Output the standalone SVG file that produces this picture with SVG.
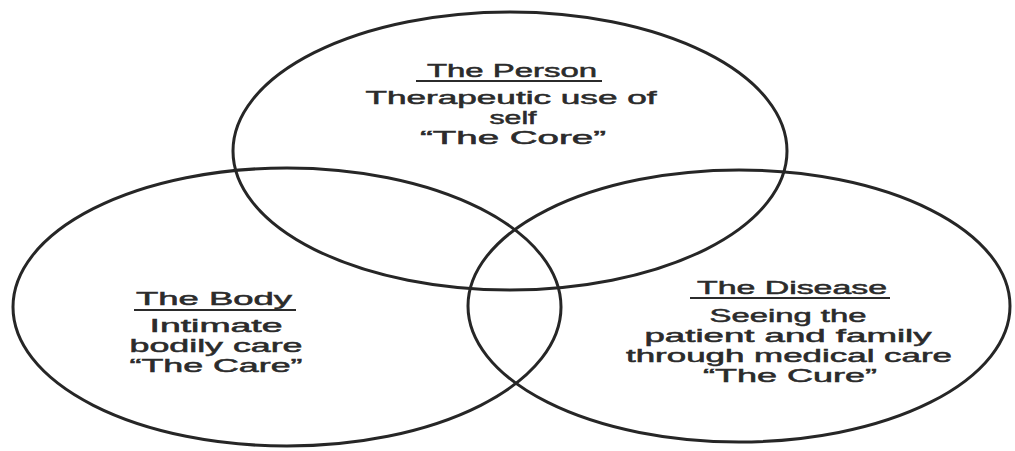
<svg xmlns="http://www.w3.org/2000/svg" width="1015" height="451" viewBox="0 0 1015 451">
  <style>
    .ring { fill: none; stroke: #262626; stroke-width: 3; }
    .t { font-family: "Liberation Sans", Arial, sans-serif; font-size: 18px; fill: #2b2b2b; stroke: #2b2b2b; stroke-width: 0.5; text-anchor: middle; }
    .ul { stroke: #2b2b2b; stroke-width: 2; }
  </style>
  <rect width="1015" height="451" fill="#ffffff"/>
  <g id="person">
    <ellipse class="ring" cx="510" cy="151" rx="277" ry="139"/>
    <text class="t" x="512" y="77" textLength="170" lengthAdjust="spacingAndGlyphs">The Person</text>
    <line class="ul" x1="416" y1="81" x2="602" y2="81"/>
    <text class="t" x="511" y="104" textLength="291" lengthAdjust="spacingAndGlyphs">Therapeutic use of</text>
    <text class="t" x="513" y="124" textLength="47" lengthAdjust="spacingAndGlyphs">self</text>
    <text class="t" x="513" y="144" textLength="186" lengthAdjust="spacingAndGlyphs">“The Core”</text>
  </g>
  <g id="body">
    <ellipse class="ring" cx="287" cy="307" rx="274" ry="139"/>
    <text class="t" x="214" y="305" textLength="156" lengthAdjust="spacingAndGlyphs">The Body</text>
    <line class="ul" x1="134" y1="310" x2="296" y2="310"/>
    <text class="t" x="216" y="332" textLength="133" lengthAdjust="spacingAndGlyphs">Intimate</text>
    <text class="t" x="216" y="352" textLength="173" lengthAdjust="spacingAndGlyphs">bodily care</text>
    <text class="t" x="216" y="372" textLength="173" lengthAdjust="spacingAndGlyphs">“The Care”</text>
  </g>
  <g id="disease">
    <ellipse class="ring" cx="739" cy="306" rx="271" ry="136"/>
    <text class="t" x="792" y="294" textLength="190" lengthAdjust="spacingAndGlyphs">The Disease</text>
    <line class="ul" x1="690" y1="298" x2="890" y2="298"/>
    <text class="t" x="788" y="322" textLength="157" lengthAdjust="spacingAndGlyphs">Seeing the</text>
    <text class="t" x="788" y="342" textLength="287" lengthAdjust="spacingAndGlyphs">patient and family</text>
    <text class="t" x="789" y="362" textLength="326" lengthAdjust="spacingAndGlyphs">through medical care</text>
    <text class="t" x="790" y="382" textLength="174" lengthAdjust="spacingAndGlyphs">“The Cure”</text>
  </g>
  <g id="connectors"/>
</svg>
